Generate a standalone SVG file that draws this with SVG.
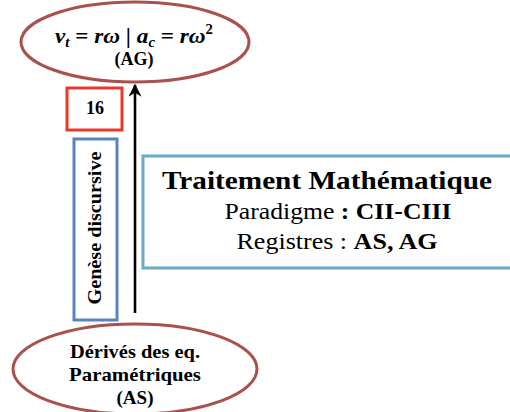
<svg xmlns="http://www.w3.org/2000/svg" width="510" height="412" viewBox="0 0 510 412">
<defs>
<style>
.ell{fill:#fff;stroke:#a9514d;stroke-width:3}
.t{font-family:"Liberation Serif","DejaVu Serif",serif;fill:#000;font-weight:bold;text-anchor:middle}
.n{font-family:"Liberation Serif","DejaVu Serif",serif;fill:#000;text-anchor:middle}
</style>
<marker id="ah" viewBox="0 0 10 10" refX="9" refY="5" markerWidth="5" markerHeight="5" orient="auto" markerUnits="strokeWidth">
<path d="M0,0 L10,5 L0,10 L3,5 Z" fill="#000"/>
</marker>
</defs>
<rect width="510" height="412" fill="#fff"/>
<g id="connectors">
<line x1="135" y1="313" x2="135" y2="85" stroke="#000" stroke-width="2.6" marker-end="url(#ah)"/>
</g>
<g id="top">
<ellipse class="ell" cx="135" cy="42" rx="114" ry="40"/>
<text class="t" x="134" y="43" font-size="22" font-style="italic" textLength="158" lengthAdjust="spacingAndGlyphs"><tspan>v</tspan><tspan font-size="14" dy="4">t</tspan><tspan dy="-4" font-style="normal"> = </tspan><tspan>rω</tspan><tspan font-style="normal"> | </tspan><tspan>a</tspan><tspan font-size="14" dy="4">c</tspan><tspan dy="-4" font-style="normal"> = </tspan><tspan>rω</tspan><tspan font-size="14" dy="-9" font-style="normal">2</tspan></text>
<text class="t" x="134" y="65" font-size="18">(AG)</text>
</g>
<g id="label16">
<rect x="67" y="88" width="55" height="42" fill="#fff" stroke="#e8392a" stroke-width="3"/>
<text class="t" x="95" y="114" font-size="18">16</text>
</g>
<g id="genese">
<rect x="74" y="139" width="43" height="181" fill="#fff" stroke="#5b82c0" stroke-width="3"/>
<text class="t" font-size="19" transform="translate(101,228) rotate(-90)" x="0" y="0" textLength="153" lengthAdjust="spacingAndGlyphs">Genèse discursive</text>
</g>
<g id="traitement">
<rect x="143" y="156" width="372" height="112" fill="#fff" stroke="#6aaac8" stroke-width="3"/>
<text class="t" x="327" y="189" font-size="26" textLength="330" lengthAdjust="spacingAndGlyphs">Traitement Mathématique</text>
<text class="n" x="338" y="219" font-size="24" textLength="227" lengthAdjust="spacingAndGlyphs">Paradigme <tspan font-weight="bold">: CII-CIII</tspan></text>
<text class="n" x="337" y="249" font-size="24" textLength="201" lengthAdjust="spacingAndGlyphs">Registres : <tspan font-weight="bold">AS, AG</tspan></text>
</g>
<g id="bottom">
<ellipse class="ell" cx="135" cy="369" rx="122" ry="45"/>
<text class="t" x="135" y="358" font-size="19" textLength="130" lengthAdjust="spacingAndGlyphs">Dérivés des eq.</text>
<text class="t" x="135" y="381" font-size="19" textLength="132" lengthAdjust="spacingAndGlyphs">Paramétriques</text>
<text class="t" x="135" y="404" font-size="19">(AS)</text>
</g>
</svg>
